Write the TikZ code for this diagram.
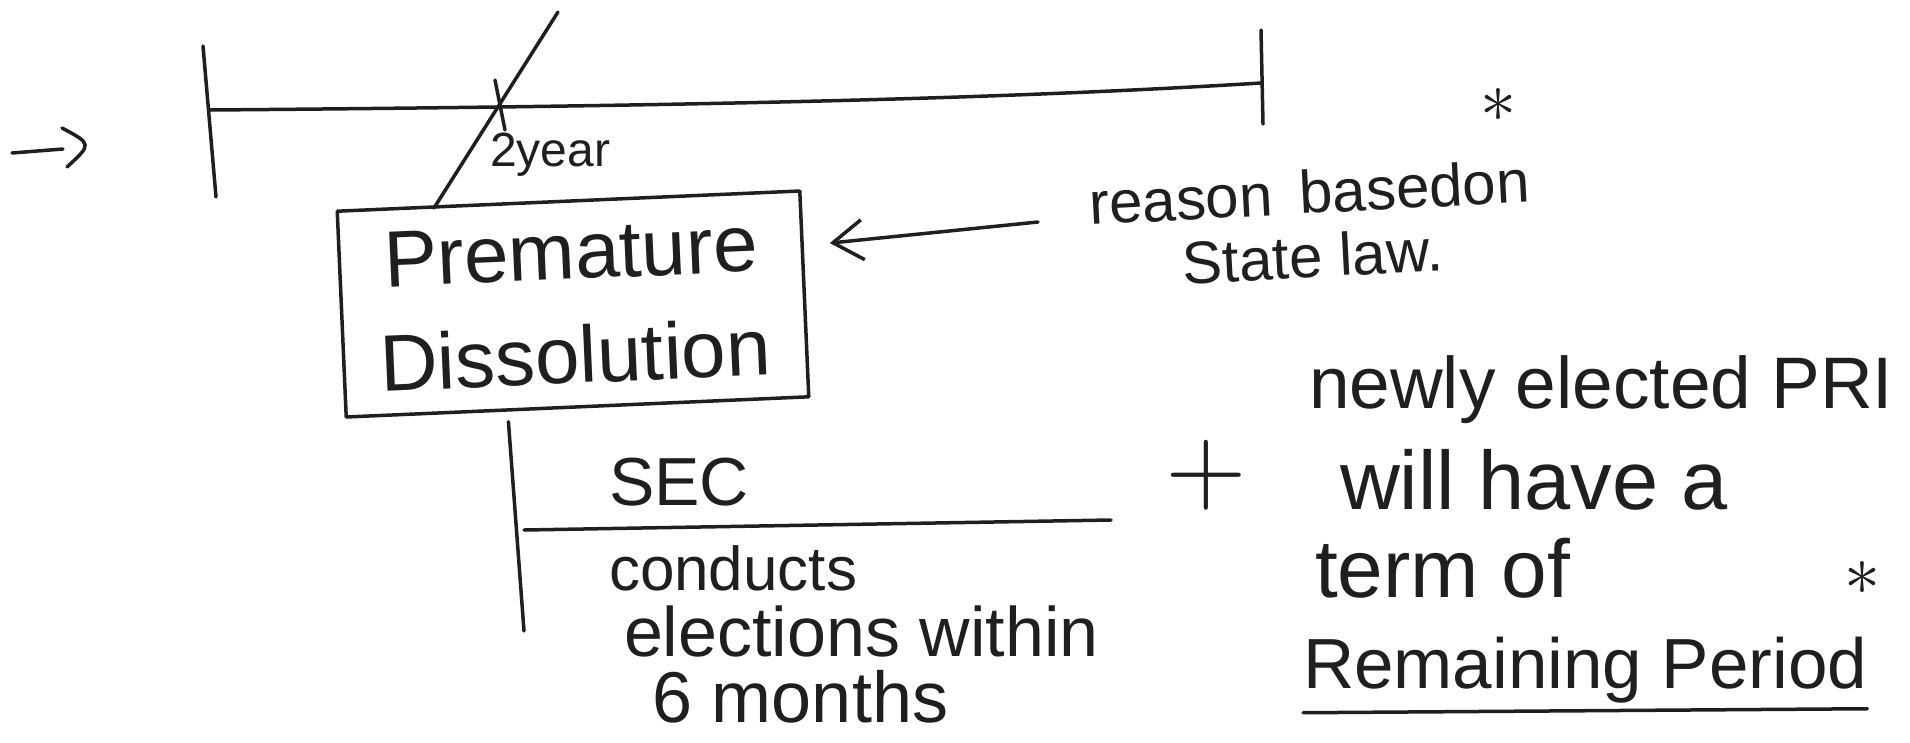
\documentclass[tikz,border=0pt]{standalone}
\usepackage{fontspec}
\setmainfont{Liberation Sans}
\newfontfamily\lmfont{lmroman10-regular.otf}
\usetikzlibrary{arrows.meta,calc}
\begin{document}
\begin{tikzpicture}[x=1pt,y=-1pt,
  ink/.style={line width=3.5pt, line cap=round, line join=round, draw=black!88},
  txt/.style={inner sep=0pt, outer sep=0pt, text=black!88},
  fs/.style={font=\fontsize{#1}{#1}\selectfont},
  boxst/.style={draw=black!88, line width=3.5pt, line join=round, inner sep=0pt, text=black!88},
  barb/.style={-{Straight Barb[length=30pt,width=40pt,line width=3.5pt]}}
]
\useasboundingbox (0,0) rectangle (1910,742);

% small arrow at the left margin
\coordinate (a0) at (12,153);
\coordinate (a1) at (63,149);
\draw[ink] (a0) -- (a1);
\coordinate (h1) at (62,128);
\coordinate (h2) at (92,144);
\coordinate (h3) at (67,167);
\draw[ink] (h1) .. controls (h2) .. (h3);

% time line with end ticks
\coordinate (lt1) at (203,46);  \coordinate (lt2) at (216,197);
\coordinate (rt1) at (1261,30); \coordinate (rt2) at (1263,124);
\coordinate (ts) at (210,110);  \coordinate (te) at (1261,83);
\draw[ink] (lt1) -- (lt2);
\draw[ink] (rt1) -- (rt2);
\draw[ink] (ts) .. controls (700,106) and (1000,99) .. (te);

% 2 year mark and slash
\coordinate (k1) at (495,80);  \coordinate (k2) at (505,130);
\draw[ink] (k1) -- (k2);
\coordinate (s1) at (558,12);  \coordinate (s2) at (434,208);
\draw[ink] (s1) -- (s2);
\node[txt, fs=48, anchor=base west] (yr) at (490,166) {2year};

% premature dissolution box
\node[boxst, rotate=2.5, minimum width=463pt, minimum height=206pt,
      align=center, font=\fontsize{80}{104}\selectfont] (box) at (573,304)
      {Premature\\Dissolution};

% reason
\node[txt, rotate=3, align=center, font=\fontsize{60}{64}\selectfont] (reason) at (1311,224)
      {reason\hspace{0.45em}basedon\\State law.};
\coordinate (arS) at (1038,222);
\draw[ink, barb, shorten >=26pt] (arS) -- ($(box.north east)!0.27!(box.south east)$);

% asterisks
\node[txt, fs=72, anchor=north] (st1) at (1498,88) {\lmfont *};
\node[txt, fs=72, anchor=north] (st2) at (1862,561) {\lmfont *};

% SEC branch
\coordinate (vb) at (524,631);
\draw[ink, shorten <=10pt] ($(box.south west)!0.35!(box.south east)$) -- (vb);
\coordinate (f1) at (524,530); \coordinate (f2) at (1111,520);
\draw[ink] (f1) -- (f2);
\node[txt, fs=68, anchor=base west] (sec) at (609,505) {SEC};
\node[txt, fs=62, anchor=base west] (c1) at (609,590) {conducts};
\node[txt, fs=70, anchor=base west] (c2) at (624,656) {elections within};
\node[txt, fs=72, anchor=base west] (c3) at (652,722) {6 months};

% plus
\node[txt, fs=105] (plus) at (1206,475) {\lmfont +};

% right block
\node[txt, fs=73, anchor=base west] (r1) at (1309,408) {newly elected PRI};
\node[txt, fs=83, anchor=base west] (r2) at (1340,509) {will have a};
\node[txt, fs=82, anchor=base west] (r3) at (1315,597) {term of};
\node[txt, fs=71, anchor=base west] (r4) at (1303,688) {Remaining Period};
\draw[ink] ([yshift=-10pt]r4.south west) -- ([yshift=-6pt]r4.south east);
\end{tikzpicture}
\end{document}
